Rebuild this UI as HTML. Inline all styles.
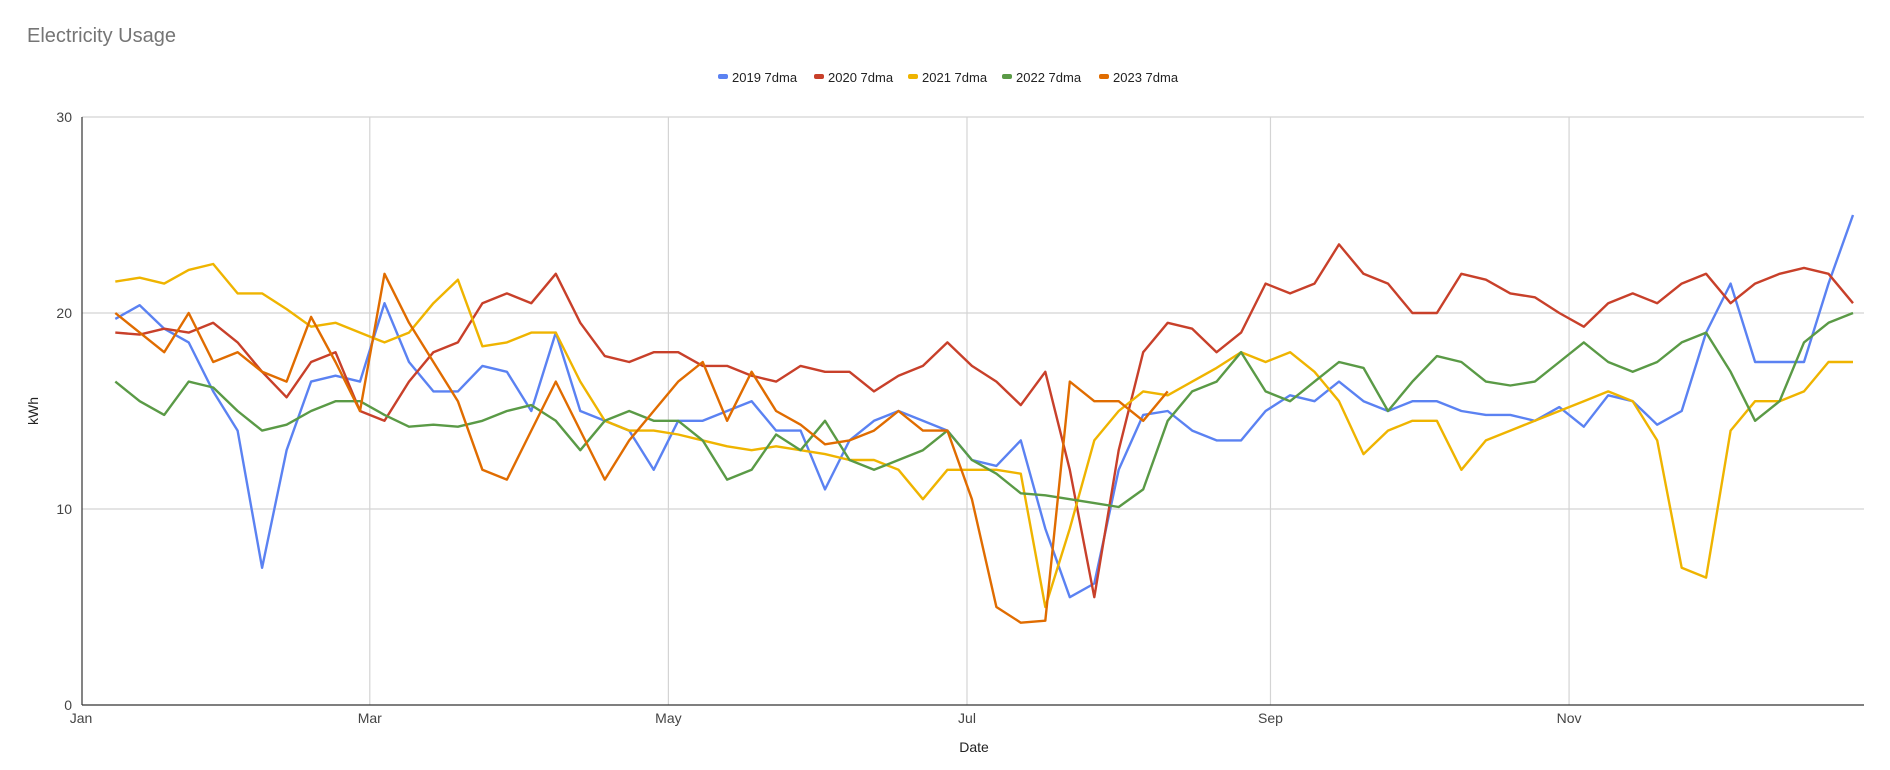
<!DOCTYPE html>
<html><head><meta charset="utf-8">
<style>
html,body{margin:0;padding:0;background:#fff;}
body{width:1890px;height:765px;overflow:hidden;font-family:"Liberation Sans",Arial,sans-serif;}
</style></head>
<body>
<svg id="chart" width="1890" height="765" xmlns="http://www.w3.org/2000/svg" font-family="Liberation Sans, Arial, sans-serif">
<text x="27" y="42" font-size="20" fill="#757575">Electricity Usage</text>
<g id="legend"></g>
<g id="grid"></g>
<g id="series"></g>
<g id="axes"></g>
<text x="974" y="752" font-size="14" text-anchor="middle" fill="#222">Date</text>
<text x="38" y="411" font-size="14" text-anchor="middle" fill="#222" transform="rotate(-90 38 411)">kWh</text>
</svg>
<script>
const days = [7,12,17,22,27,32,37,42,47,52,57,62,67,72,77,82,87,92,97,102,107,112,117,122,127,132,137,142,147,152,157,162,167,172,177,182,187,192,197,202,207,212,217,222,227,232,237,242,247,252,257,262,267,272,277,282,287,292,297,302,307,312,317,322,327,332,337,342,347,352,357,362];
const s2019 = [19.7,20.4,19.2,18.5,16.0,14.0,7.0,13.0,16.5,16.8,16.5,20.5,17.5,16.0,16.0,17.3,17.0,15.0,19.0,15.0,14.5,14.0,12.0,14.5,14.5,15.0,15.5,14.0,14.0,11.0,13.5,14.5,15.0,14.5,14.0,12.5,12.2,13.5,9.0,5.5,6.2,12.0,14.8,15.0,14.0,13.5,13.5,15.0,15.8,15.5,16.5,15.5,15.0,15.5,15.5,15.0,14.8,14.8,14.5,15.2,14.2,15.8,15.5,14.3,15.0,19.0,21.5,17.5,17.5,17.5,21.5,25.0];
const s2020 = [19.0,18.9,19.2,19.0,19.5,18.5,17.0,15.7,17.5,18.0,15.0,14.5,16.5,18.0,18.5,20.5,21.0,20.5,22.0,19.5,17.8,17.5,18.0,18.0,17.3,17.3,16.8,16.5,17.3,17.0,17.0,16.0,16.8,17.3,18.5,17.3,16.5,15.3,17.0,12.0,5.5,13.0,18.0,19.5,19.2,18.0,19.0,21.5,21.0,21.5,23.5,22.0,21.5,20.0,20.0,22.0,21.7,21.0,20.8,20.0,19.3,20.5,21.0,20.5,21.5,22.0,20.5,21.5,22.0,22.3,22.0,20.5];
const s2021 = [21.6,21.8,21.5,22.2,22.5,21.0,21.0,20.2,19.3,19.5,19.0,18.5,19.0,20.5,21.7,18.3,18.5,19.0,19.0,16.5,14.5,14.0,14.0,13.8,13.5,13.2,13.0,13.2,13.0,12.8,12.5,12.5,12.0,10.5,12.0,12.0,12.0,11.8,5.0,9.0,13.5,15.0,16.0,15.8,16.5,17.2,18.0,17.5,18.0,17.0,15.5,12.8,14.0,14.5,14.5,12.0,13.5,14.0,14.5,15.0,15.5,16.0,15.5,13.5,7.0,6.5,14.0,15.5,15.5,16.0,17.5,17.5];
const s2022 = [16.5,15.5,14.8,16.5,16.2,15.0,14.0,14.3,15.0,15.5,15.5,14.8,14.2,14.3,14.2,14.5,15.0,15.3,14.5,13.0,14.5,15.0,14.5,14.5,13.5,11.5,12.0,13.8,13.0,14.5,12.5,12.0,12.5,13.0,14.0,12.5,11.8,10.8,10.7,10.5,10.3,10.1,11.0,14.5,16.0,16.5,18.0,16.0,15.5,16.5,17.5,17.2,15.0,16.5,17.8,17.5,16.5,16.3,16.5,17.5,18.5,17.5,17.0,17.5,18.5,19.0,17.0,14.5,15.5,18.5,19.5,20.0];
const s2023 = [20.0,19.0,18.0,20.0,17.5,18.0,17.0,16.5,19.8,17.5,15.0,22.0,19.5,17.5,15.5,12.0,11.5,14.0,16.5,14.0,11.5,13.5,15.0,16.5,17.5,14.5,17.0,15.0,14.3,13.3,13.5,14.0,15.0,14.0,14.0,10.5,5.0,4.2,4.3,16.5,15.5,15.5,14.5,16.0,null,null,null,null,null,null,null,null,null,null,null,null,null,null,null,null,null,null,null,null,null,null,null,null,null,null,null,null];
const seriesNames = ["2019 7dma","2020 7dma","2021 7dma","2022 7dma","2023 7dma"];
const yTicks = [0,10,20,30];
const xTickLabels = ["Jan","Mar","May","Jul","Sep","Nov"];
const xTickDays = [0,59,120,181,243,304];

const NS="http://www.w3.org/2000/svg";
const colors=["#5b82f2","#c8402a","#efb400","#5a9a46","#e06c00"];
const allSeries=[s2019,s2020,s2021,s2022,s2023];
const L=82,R=1864,T=117,B=705;
const xS=d=>81+d*4.895;
const yS=v=>B-(v/30)*(B-T);
function mk(tag,attrs,parent){const e=document.createElementNS(NS,tag);for(const k in attrs)e.setAttribute(k,attrs[k]);parent.appendChild(e);return e;}
const grid=document.getElementById('grid'),axes=document.getElementById('axes'),ser=document.getElementById('series'),leg=document.getElementById('legend');
yTicks.forEach(v=>{
  if(v>0){const g=mk('line',{x1:L,x2:R,y1:yS(v),y2:yS(v),stroke:'#d4d4d4','stroke-width':1.2},grid);
  
  }
  const t=mk('text',{x:L-10,y:yS(v)+5,'font-size':14,'text-anchor':'end',fill:'#444'},axes);t.textContent=v;
  
  
});
xTickDays.forEach((d,i)=>{
  if(i>0){const g=mk('line',{x1:xS(d),x2:xS(d),y1:T,y2:B,stroke:'#d4d4d4','stroke-width':1.2},grid);
  
  }
  const t=mk('text',{x:xS(d),y:B+18,'font-size':14,'text-anchor':'middle',fill:'#444'},axes);t.textContent=xTickLabels[i];
  
  
});
const ax=mk('line',{x1:L,x2:R,y1:B,y2:B,stroke:'#333','stroke-width':1.2},axes);


const ay=mk('line',{x1:L,x2:L,y1:T,y2:B,stroke:'#333','stroke-width':1.2},axes);


allSeries.forEach((arr,si)=>{
  let d='',pen=false;
  arr.forEach((v,i)=>{if(v==null){pen=false;return;}d+=(pen?'L':'M')+xS(days[i]).toFixed(1)+','+yS(v).toFixed(1);pen=true;});
  const p=mk('path',{d:d,fill:'none',stroke:colors[si],'stroke-width':2.4,'stroke-linejoin':'round'},ser);
  
  
});
const legX=[718,814,908,1002,1099];
seriesNames.forEach((n,i)=>{
  const g=mk('g',{},leg);
  
  
  mk('rect',{x:legX[i],y:74,width:10,height:5,rx:2,fill:colors[i]},g);
  const t=mk('text',{x:legX[i]+14,y:82,'font-size':13,fill:'#222'},g);t.textContent=n;
});
</script>
</body></html>
